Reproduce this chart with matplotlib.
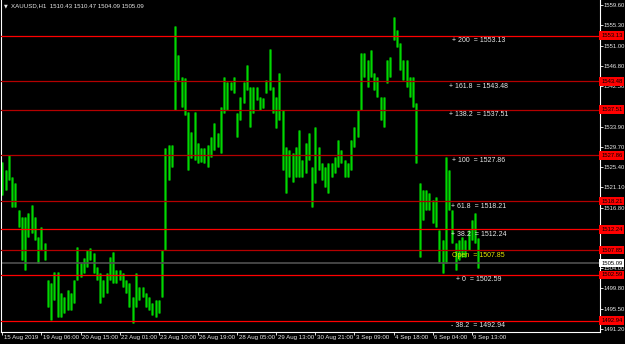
import matplotlib
matplotlib.use('Agg')
from matplotlib import pyplot as plt
from matplotlib import transforms

plt.rcParams['font.family'] = ['Liberation Sans', 'DejaVu Sans']

symbol = 'XAUUSD,H1'
last_ohlc = [1510.43, 1510.47, 1504.09, 1505.09]
bid = 1505.09

# high / low of the H1 bars (left to right)
highs = [
    1526.5, 1524.8, 1527.9, 1523.3, 1522.0, 1516.3, 1514.8, 1514.8, 1515.7, 1517.4,
    1514.8, 1510.6, 1512.7, 1509.4, 1501.5, 1500.9, 1503.2, 1503.2, 1498.8, 1497.9,
    1499.4, 1498.8, 1501.5, 1508.5, 1505.1, 1506.2, 1507.9, 1508.3, 1507.2, 1504.3,
    1503.0, 1501.5, 1503.0, 1506.4, 1507.5, 1503.6, 1503.6, 1503.0, 1501.5, 1500.9,
    1497.9, 1503.0, 1500.1, 1500.1, 1498.8, 1497.9, 1496.7, 1497.3, 1497.3, 1507.9,
    1529.4,
    1530.1, 1530.1, 1555.2, 1549.1, 1544.4, 1544.2, 1537.0, 1532.8, 1537.0, 1530.5,
    1529.4, 1529.4, 1530.1, 1531.7, 1534.7, 1532.6, 1538.1, 1544.4, 1543.4, 1543.4,
    1544.4, 1536.8, 1540.2, 1543.4, 1546.9, 1542.3, 1542.3, 1542.3, 1540.2, 1540.0,
    1543.8, 1550.3, 1542.3, 1540.2, 1545.3, 1537.4, 1529.6, 1529.0, 1528.4, 1529.6,
    1533.2, 1526.9, 1530.5, 1532.6, 1525.4, 1533.9, 1529.6, 1526.2, 1525.4, 1526.2,
    1526.2, 1527.5, 1531.1, 1529.0, 1526.9, 1526.2,
    1531.1, 1533.9, 1537.4, 1549.5, 1549.5, 1548.0, 1550.1, 1545.3, 1544.4, 1540.2,
    1540.2, 1548.0, 1548.6, 1557.1, 1554.3, 1551.6, 1548.0, 1548.0, 1544.4, 1544.4,
    1538.9, 1522.0, 1520.5, 1520.5, 1519.9, 1518.4, 1519.1, 1512.1, 1510.0, 1527.5,
    1524.8, 1516.3, 1509.4, 1510.0, 1510.6, 1510.0, 1512.1, 1514.2, 1515.7, 1510.47,
]
lows = [
    1519.5, 1520.5, 1522.6, 1517.0, 1517.0, 1512.7, 1505.8, 1503.6, 1510.6, 1511.5,
    1510.0, 1505.1, 1507.9, 1505.8, 1495.8, 1493.1, 1497.3, 1493.7, 1493.7, 1494.6,
    1495.2, 1495.2, 1496.7, 1501.5, 1502.2, 1503.0, 1504.3, 1505.8, 1503.0, 1501.5,
    1496.7, 1497.9, 1498.8, 1501.5, 1500.9, 1500.9, 1501.5, 1500.1, 1498.8, 1495.8,
    1492.4, 1495.8, 1497.3, 1497.9, 1495.8, 1495.2, 1494.1, 1493.7, 1494.6, 1497.9,
    1507.9,
    1522.6, 1525.4, 1537.4, 1543.8, 1538.1, 1536.4, 1524.8, 1527.3, 1526.9, 1526.2,
    1526.5, 1526.2, 1525.4, 1527.5, 1529.0, 1529.6, 1528.4, 1536.8, 1537.4, 1541.7,
    1541.0, 1531.7, 1535.3, 1538.9, 1541.7, 1533.9, 1536.8, 1539.6, 1537.4, 1537.9,
    1541.0, 1541.7, 1536.8, 1533.6, 1535.3, 1524.8, 1519.9, 1523.3, 1522.2, 1523.3,
    1523.3, 1523.3, 1524.1, 1526.9, 1517.0, 1522.0, 1524.8, 1522.6, 1521.2, 1519.9,
    1523.3, 1524.1, 1525.4, 1526.2, 1523.3, 1523.3,
    1524.8, 1529.6, 1531.7, 1537.4, 1544.4, 1542.3, 1544.4, 1541.7, 1540.2, 1535.3,
    1533.9, 1543.1, 1544.4, 1552.2, 1550.7, 1545.9, 1543.8, 1542.3, 1540.2, 1538.1,
    1526.2, 1506.4, 1514.2, 1516.3, 1516.3, 1513.6, 1512.7, 1505.1, 1503.0, 1505.1,
    1516.3, 1509.4, 1503.6, 1505.8, 1506.4, 1506.4, 1507.9, 1510.0, 1509.4, 1504.09,
]

fibo_names = ['+ 200', '+ 161.8', '+ 138.2', '+ 100', '+ 61.8', '+ 38.2', 'Open', '+ 0', '- 38.2']
fibo_values = [1553.13, 1543.48, 1537.51, 1527.86, 1518.21, 1512.24, 1507.85, 1502.59, 1492.94]
fibo_bright = [True, False, False, False, False, True, False, True, True]

price_ticks = [1559.60, 1555.30, 1551.00, 1546.80, 1542.50, 1533.90, 1529.70,
               1525.40, 1521.10, 1516.80, 1504.00, 1499.80, 1495.50, 1491.20]

time_labels = ['15 Aug 2019', '19 Aug 06:00', '20 Aug 15:00', '22 Aug 01:00', '23 Aug 10:00',
               '26 Aug 19:00', '28 Aug 05:00', '29 Aug 13:00', '30 Aug 21:00', '3 Sep 09:00',
               '4 Sep 18:00', '6 Sep 04:00', '9 Sep 13:00']
bars_per_label = 12

W, H = 625, 344
fig = plt.figure(figsize=(W / 100, H / 100), dpi=100, facecolor='black')
ax = fig.add_axes([1 / W, 12 / H, 599 / W, 332 / H], facecolor='black')

x = list(range(len(highs)))
ax.vlines(x, lows, highs, colors='#009600', lw=1.9)
ax.vlines(x, lows, highs, colors='#00d800', lw=0.8)

ax.set_xlim(-0.4, 183.3)
ax.set_ylim(1490.55, 1560.67)

fs = 5
small = 4.4
right_fs = 4.2
fg = '#e8e8e8'

# fibo levels
blend = transforms.blended_transform_factory(ax.transAxes, ax.transData)
below = transforms.offset_copy(ax.transData, fig, x=0, y=-5, units='dots')
for name, val, bright in zip(fibo_names, fibo_values, fibo_bright):
    ax.axhline(val, color='#ff0000' if bright else '#b40000', lw=0.9, zorder=3)
    col = '#e6e600' if name == 'Open' else fg
    ax.text(x[-1], val, f'{name}  = {val:.2f}', transform=below, ha='center',
            va='center', fontsize=fs, color=col, zorder=5)
    ax.text(1.002, val, f'{val:.2f}', transform=blend, ha='left', va='center',
            fontsize=right_fs, color='black', clip_on=False, zorder=10,
            bbox=dict(boxstyle='square,pad=0.3', fc='#ff0000', ec='none'))

ax.axhline(bid, color='#505050', lw=1.2, zorder=2)
ax.text(1.002, bid, f'{bid:.2f}', transform=blend, ha='left', va='center',
        fontsize=right_fs, color='black', clip_on=False, zorder=10,
        bbox=dict(boxstyle='square,pad=0.3', fc='white', ec='none'))

# axes look
for side in ['left', 'bottom', 'right']:
    ax.spines[side].set_color('white')
    ax.spines[side].set_linewidth(0.8)
ax.spines['top'].set_visible(False)

ax.yaxis.tick_right()
ax.set_yticks(price_ticks)
ax.set_yticklabels([f'{p:.2f}' for p in price_ticks])
ax.tick_params(axis='y', colors='white', labelcolor=fg, labelsize=right_fs,
               length=2, width=0.6, pad=0.8, direction='out')

tick_pos = [i * bars_per_label for i in range(len(time_labels))]
ax.set_xticks(tick_pos)
ax.set_xticklabels([])
ax.tick_params(axis='x', colors='white', length=2.5, width=0.6, direction='out')
under = transforms.blended_transform_factory(ax.transData, ax.transAxes)
under = under + transforms.ScaledTranslation(1.5 / 100, -5 / 100, fig.dpi_scale_trans)
for pos, lbl in zip(tick_pos, time_labels):
    ax.text(pos, 0, lbl, transform=under, ha='left', va='center', fontsize=small,
            color=fg, clip_on=False)

# header
fig.text(4 / W, 1 - 6 / H, '\u25bc', fontsize=3.5, color=fg, va='center',
         family='DejaVu Sans')
fig.text(11 / W, 1 - 6 / H, f"{symbol}  " + ' '.join(f'{v:.2f}' for v in last_ohlc),
         fontsize=small, color=fg, va='center')

plt.savefig('out.png', dpi=100, facecolor='black')
